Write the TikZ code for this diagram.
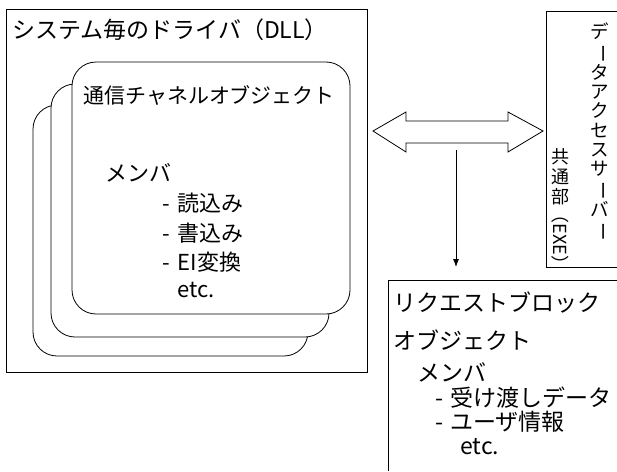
\documentclass[tikz,border=0pt]{standalone}
\usepackage{fontspec}
\setmainfont{Noto Sans CJK JP}
\usetikzlibrary{arrows.meta}
\begin{document}
\begin{tikzpicture}[x=1pt,y=-1pt,
  frame/.style={draw, line width=0.8pt},
  rbox/.style={draw, fill=white, rounded corners=24pt, line width=0.8pt, inner sep=0pt},
  txt/.style={anchor=west, inner sep=0pt, font=\fontsize{22}{24}\selectfont},
  rtxt/.style={anchor=west, inner sep=0pt, font=\fontsize{23}{25}\selectfont}]
\useasboundingbox (0,0) rectangle (617,471);
% outer driver box
\node[frame, inner sep=0pt, minimum width=361pt, minimum height=363pt] (drv) at (186.5,190.5) {};
\node[txt, font=\fontsize{23}{25}\selectfont] (drvt) at (12,30) {システム毎のドライバ（DLL）};
% stacked channel objects
\node[rbox, minimum width=275pt, minimum height=251pt] (ch3) at (170.5,230.5) {};
\node[rbox, minimum width=278pt, minimum height=253pt] (ch2) at (190,210.5) {};
\node[rbox, minimum width=278pt, minimum height=252pt] (ch1) at (211,188) {};
\node[txt, font=\fontsize{21}{23}\selectfont] (cht) at (83,95) {通信チャネルオブジェクト};
\node[txt] (m1) at (105,173) {メンバ};
\node[txt] (m2) at (162,203) {-\hspace{8pt}読込み};
\node[txt] (m3) at (162,233) {-\hspace{8pt}書込み};
\node[txt] (m4) at (162,262) {-\hspace{8pt}EI変換};
\node[txt] (m5) at (177,290) {etc.};
% double arrow
\draw[line width=0.8pt, fill=white] (373,131) -- (406,112) -- (406,121) -- (508,121) -- (508,112)
  -- (543,131) -- (508,152) -- (508,143) -- (406,143) -- (406,152) -- cycle;
% vertical arrow
\coordinate (va) at (456,150);
\coordinate (vb) at (456,267);
\draw[line width=0.8pt, -{Latex[length=8pt,width=6pt]}] (va) -- (vb);
% server box
\draw[frame] (617,11) -- (546,11) -- (546,267) -- (617,267);
\node[anchor=north, inner sep=0pt, align=center, font=\fontsize{18.5}{19.2}\selectfont] (srvt) at (600,23)
  {デ\\\rotatebox[origin=c]{-90}{ー}\\タ\\ア\\ク\\セ\\ス\\サ\\\rotatebox[origin=c]{-90}{ー}\\バ\\\rotatebox[origin=c]{-90}{ー}};
\node[anchor=north, inner sep=0pt, align=center, font=\fontsize{18}{20}\selectfont] (cmn) at (560,148)
  {共\\通\\部\\\rotatebox[origin=c]{-90}{（EXE）}};
% request block box
\draw[frame] (617,280) -- (388,280) -- (388,471);
\node[rtxt] (r1) at (393,303) {リクエストブロック};
\node[rtxt] (r2) at (393,340) {オブジェクト};
\node[rtxt] (r3) at (417,372) {メンバ};
\node[rtxt] (r4) at (435,398) {-\hspace{7pt}受け渡しデータ};
\node[rtxt] (r5) at (435,422) {-\hspace{7pt}ユーザ情報};
\node[rtxt] (r6) at (460,447) {etc.};
\end{tikzpicture}
\end{document}
